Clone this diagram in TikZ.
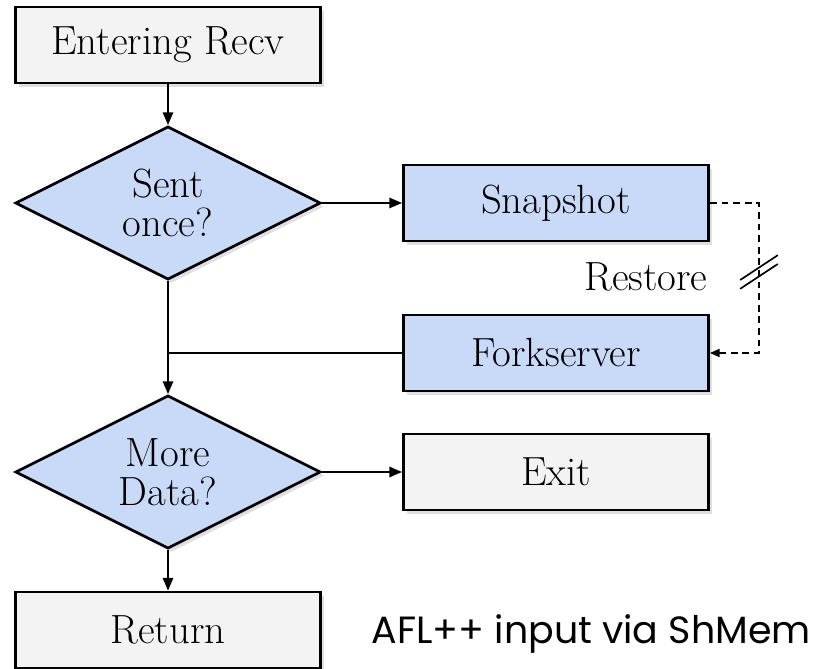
\documentclass[tikz,border=0pt]{standalone}
\usepackage{fontspec}
\usepackage{tikz}
\usepackage{xcolor}
\usetikzlibrary{shapes.geometric}
\usetikzlibrary{shadows}
\usetikzlibrary{arrows.meta}
\newfontfamily\aflfont{Poppins}
\definecolor{stepblue}{HTML}{C9DAF8}
\definecolor{stepgray}{HTML}{F3F3F3}
\tikzset{boxnode/.style={draw, line width=1.9pt, minimum width=7.63cm, minimum height=1.9cm,
   inner sep=0pt, drop shadow={shadow xshift=0.09cm, shadow yshift=-0.09cm, opacity=0.25}},
 graybox/.style={boxnode, fill=stepgray},
 bluebox/.style={boxnode, fill=stepblue},
 decide/.style={diamond, draw, line width=1.9pt, fill=stepblue, aspect=2, inner sep=0pt,
   minimum width=7.63cm, minimum height=3.83cm, align=center,
   drop shadow={shadow xshift=0.09cm, shadow yshift=-0.09cm, opacity=0.25}},
 flow/.style={draw, line width=1.3pt, -{Triangle[length=0.32cm, width=0.26cm]}},
 restoreline/.style={draw, line width=1.2pt, dash pattern=on 0.17cm off 0.12cm,
   -{Triangle[length=0.24cm, width=0.2cm]}},
 every node/.style={font=\fontsize{29}{27.5}\selectfont},
 }

\begin{document}
\begin{tikzpicture}
        \useasboundingbox (0, 0) rectangle (20.375, -16.725);
        \node[graybox] (entering) at (4.2, -1.125) {Entering Recv};
        \node[decide] (sent) at (4.2, -5.075) {Sent\\once?};
        \node[bluebox] (snapshot) at (13.9, -5.075) {Snapshot};
        \node[bluebox] (forkserver) at (13.9, -8.825) {Forkserver};
        \node[decide] (more) at (4.2, -11.8) {More\\Data?};
        \node[graybox] (exit) at (13.9, -11.8) {Exit};
        \node[graybox] (return) at (4.2, -15.75) {Return};
        \node (restore) at (16.15, -6.93) {Restore};
        \node[font=\aflfont\fontsize{27}{27}\selectfont] (afl) at (14.78, -15.85) {AFL++ input via ShMem};
        \coordinate (join) at (4.2, -8.825);
        \coordinate (top) at (18.975, -5.075);
        \coordinate (bottom) at (18.975, -8.825);
        \coordinate (brk) at (18.975, -6.8);
        \draw[flow] (entering) -- (sent);
        \draw[flow] (sent) -- (snapshot);
        \draw[flow] (sent) -- (more);
        \draw[line width=1.3pt] (forkserver) -- (join);
        \draw[flow] (more) -- (exit);
        \draw[flow] (more) -- (return);
        \draw[restoreline] (snapshot) -- (top) -- (bottom) -- (forkserver);
        \draw[line width=1.2pt] ([shift={(-0.47, -0.2)}]brk) -- ([shift={(0.47, 0.42)}]brk);
        \draw[line width=1.2pt] ([shift={(-0.47, -0.42)}]brk) -- ([shift={(0.47, 0.2)}]brk);
    \end{tikzpicture}
\end{document}
